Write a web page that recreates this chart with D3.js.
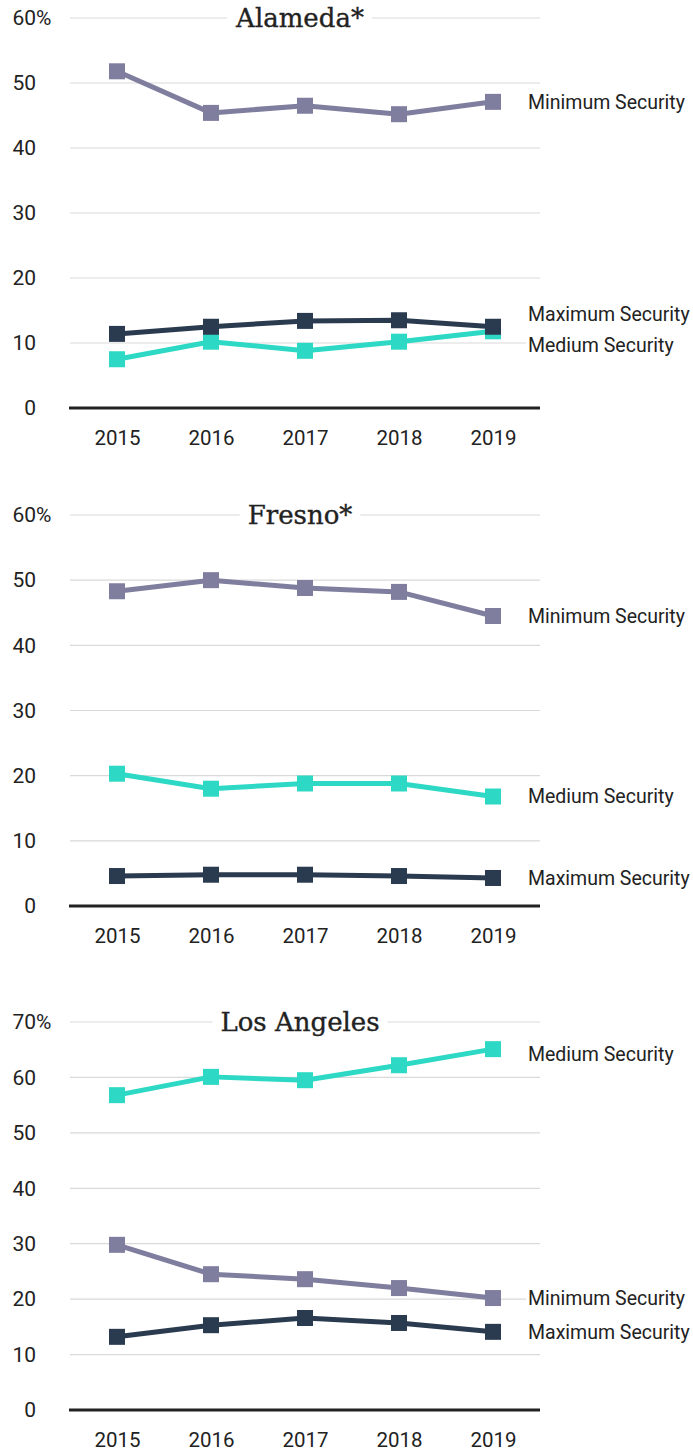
<!DOCTYPE html>
<html>
<head>
<meta charset="utf-8">
<script src="https://cdn.jsdelivr.net/npm/d3@7"></script>
<style>
  body { margin: 0; background: #fff; }
  text { font-family: Roboto, "Open Sans", sans-serif; }
  text.title { font-family: "DejaVu Serif", serif; }
</style>
</head>
<body>
<svg id="chart"></svg>
<script>
// data
var years = [2015, 2016, 2017, 2018, 2019];
var counties = ["Alameda*", "Fresno*", "Los Angeles"];
var yMaxes = [60, 60, 70];
var seriesNames = ["Minimum Security", "Medium Security", "Maximum Security"];

var alamedaMin = [51.8, 45.4, 46.5, 45.2, 47.1];
var alamedaMed = [7.5, 10.2, 8.8, 10.2, 11.8];
var alamedaMax = [11.4, 12.5, 13.4, 13.5, 12.5];

var fresnoMin = [48.3, 50.0, 48.8, 48.2, 44.5];
var fresnoMed = [20.3, 18.0, 18.8, 18.8, 16.8];
var fresnoMax = [4.6, 4.8, 4.8, 4.6, 4.3];

var laMin = [29.8, 24.5, 23.6, 22.0, 20.2];
var laMed = [56.8, 60.1, 59.5, 62.2, 65.1];
var laMax = [13.2, 15.3, 16.6, 15.7, 14.1];

var countyData = [
    [alamedaMin, alamedaMed, alamedaMax],
    [fresnoMin, fresnoMed, fresnoMax],
    [laMin, laMed, laMax]
];

var colors = ["#7f7e9e", "#2dd9c5", "#2b3b4f"];

// layout
var width = 693, height = 1454;
var panels = [
    { top: 18, bottom: 408 },
    { top: 515, bottom: 906 },
    { top: 1022, bottom: 1410 }
];
// small vertical nudges so end labels don't collide (px)
var labelNudge = [
    [0, 14, -13],
    [0, 0, 0],
    [0, 5, 0]
];

var svg = d3.select("#chart")
    .attr("width", width)
    .attr("height", height);

var x = d3.scalePoint().domain(years).range([70, 540]).padding(0.5);

counties.forEach(function(name, i) {
    var p = panels[i];
    var yMax = yMaxes[i];
    var y = d3.scaleLinear().domain([0, yMax]).range([p.bottom, p.top]);
    var g = svg.append("g");
    var ticks = d3.range(0, yMax + 1, 10);

    // gridlines
    g.selectAll(".grid")
        .data(ticks.filter(function(t) { return t > 0; }))
        .enter().append("line")
        .attr("x1", 70).attr("x2", 540)
        .attr("y1", function(d) { return y(d); })
        .attr("y2", function(d) { return y(d); })
        .attr("stroke", "#d9d9d9")
        .attr("stroke-width", 1.2);

    // y axis
    var yAxis = d3.axisLeft(y).tickValues(ticks).tickSize(0).tickPadding(0);
    var ya = g.append("g")
        .attr("transform", "translate(36,0)")
        .call(yAxis);
    ya.select(".domain").remove();
    ya.selectAll("text")
        .style("font-size", "21px")
        .attr("fill", "#222");
    ya.selectAll(".tick").filter(function(d) { return d === yMax; })
        .append("text")
        .text("%")
        .attr("x", 0)
        .attr("dy", "0.32em")
        .attr("fill", "#222")
        .style("font-size", "21px")
        .attr("text-anchor", "start");

    // x axis
    var xAxis = d3.axisBottom(x).tickSize(0).tickPadding(22);
    var xa = g.append("g")
        .attr("transform", "translate(0," + p.bottom + ")")
        .call(xAxis);
    xa.select(".domain").remove();
    xa.selectAll("text")
        .style("font-size", "20.5px")
        .attr("fill", "#222");
    g.append("line")
        .attr("x1", 69).attr("x2", 540)
        .attr("y1", p.bottom).attr("y2", p.bottom)
        .attr("stroke", "#222")
        .attr("stroke-width", 3);

    // series
    var line = d3.line()
        .x(function(d, j) { return x(years[j]); })
        .y(function(d) { return y(d); });

    countyData[i].forEach(function(values, s) {
        g.append("path")
            .datum(values)
            .attr("d", line)
            .attr("fill", "none")
            .attr("stroke", colors[s])
            .attr("stroke-width", 5)
            .attr("stroke-linejoin", "round");
        g.selectAll(".m" + s)
            .data(values)
            .enter().append("rect")
            .attr("x", function(d, j) { return x(years[j]) - 8; })
            .attr("y", function(d) { return y(d) - 8; })
            .attr("width", 16)
            .attr("height", 16)
            .attr("fill", colors[s]);
    });

    // end labels
    countyData[i].forEach(function(values, s) {
        var ly = y(values[values.length - 1]) + labelNudge[i][s];
        var bg = g.append("rect").attr("fill", "#fff");
        var t = g.append("text")
            .text(seriesNames[s])
            .attr("x", 528)
            .attr("y", ly)
            .attr("dy", "0.35em")
            .attr("fill", "#222")
            .style("font-size", "19.5px");
        var b = t.node().getBBox();
        bg.attr("x", b.x - 2).attr("y", b.y).attr("width", b.width + 4).attr("height", b.height);
    });

    // title with white backing over the top gridline
    var tbg = g.append("rect").attr("fill", "#fff");
    var title = g.append("text")
        .attr("class", "title")
        .text(name)
        .attr("x", 300)
        .attr("y", p.top)
        .attr("dy", "0.36em")
        .attr("text-anchor", "middle")
        .style("font-size", "26px")
        .attr("fill", "#222")
        .attr("stroke", "#222")
        .attr("stroke-width", 0.35);
    var tb = title.node().getBBox();
    tbg.attr("x", tb.x - 8).attr("y", tb.y).attr("width", tb.width + 16).attr("height", tb.height);
});
</script>
</body>
</html>
